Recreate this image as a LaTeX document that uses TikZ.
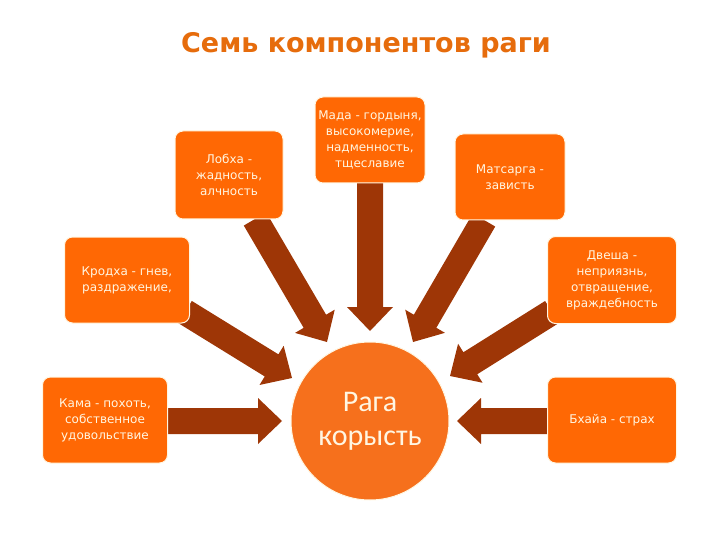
\documentclass[tikz,border=0pt]{standalone}
\usepackage{fontspec}
\setmainfont{DejaVu Sans}
\newfontfamily\carl{Carlito}
\usetikzlibrary{calc}
\definecolor{boxor}{RGB}{255,104,4}
\definecolor{circor}{RGB}{246,112,28}
\definecolor{arrbr}{RGB}{158,54,6}
\definecolor{titor}{RGB}{230,108,12}
\definecolor{txtlt}{RGB}{255,246,226}
\newcommand\blockarrow[2]{%
  \path ($(#2)!24pt!(#1)$) coordinate (nk);
  \fill[arrbr] ($(#1)!13pt!90:(#2)$) -- ($(nk)!13pt!90:(#2)$) -- ($(nk)!23pt!90:(#2)$) -- (#2)
    -- ($(nk)!23pt!-90:(#2)$) -- ($(nk)!13pt!-90:(#2)$) -- ($(#1)!13pt!-90:(#2)$) -- cycle;}
\tikzset{
  kbox/.style={rectangle, rounded corners=8pt, fill=boxor, draw=txtlt, line width=1pt,
    text=txtlt, align=center, inner sep=2pt, font=\fontsize{12}{16}\selectfont},
}
\begin{document}
\begin{tikzpicture}[x=1pt,y=-1pt]
\useasboundingbox (0,0) rectangle (720,540);
\node[text=titor, font=\bfseries\fontsize{27}{30}\selectfont] (title) at (366,45) {Семь компонентов раги};
% named arrow endpoints
\coordinate (s1) at (255,219); \coordinate (e1) at (327,342);
\coordinate (s2) at (370,183); \coordinate (e2) at (370,331);
\coordinate (s3) at (484,220); \coordinate (e3) at (413,342);
\coordinate (s4) at (185,312); \coordinate (e4) at (292,378);
\coordinate (s5) at (552,312); \coordinate (e5) at (450,376);
\coordinate (s6) at (166,421); \coordinate (e6) at (282,421);
\coordinate (s7) at (550,421); \coordinate (e7) at (457,421);
\blockarrow{s1}{e1}
\blockarrow{s2}{e2}
\blockarrow{s3}{e3}
\blockarrow{s4}{e4}
\blockarrow{s5}{e5}
\blockarrow{s6}{e6}
\blockarrow{s7}{e7}
% boxes
\node[kbox, minimum width=108, minimum height=88] (lobha) at (229,175) {Лобха -\\жадность,\\алчность};
\node[kbox, minimum width=110, minimum height=86] (mada) at (370,140) {Мада - гордыня,\\высокомерие,\\надменность,\\тщеславие};
\node[kbox, minimum width=110, minimum height=86] (mats) at (510,177) {Матсарга -\\зависть};
\node[kbox, minimum width=125, minimum height=86] (krod) at (127,280) {Кродха - гнев,\\раздражение,};
\node[kbox, minimum width=129, minimum height=87] (dvesha) at (612,280) {Двеша -\\неприязнь,\\отвращение,\\враждебность};
\node[kbox, minimum width=125, minimum height=86] (kama) at (105,420) {Кама - похоть,\\собственное\\удовольствие};
\node[kbox, minimum width=129, minimum height=86] (bhaya) at (612,420) {Бхайа - страх};
\node[circle, fill=circor, draw=txtlt, line width=1pt, minimum size=158, text=txtlt, align=center,
  font=\carl\fontsize{30}{34}\selectfont] (raga) at (370,421) {Рага\\корысть};
\end{tikzpicture}
\end{document}
